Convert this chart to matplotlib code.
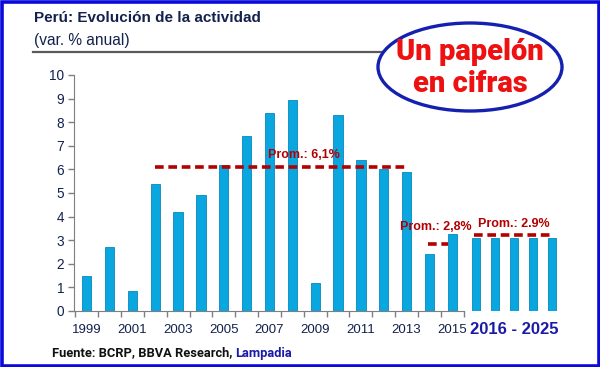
import matplotlib

matplotlib.use("Agg")
import matplotlib.pyplot as plt
import matplotlib.patches as mpatches
import matplotlib.lines as mlines
from matplotlib import font_manager

W, H = 600, 367

# historical growth, % yoy
years = [1999, 2000, 2001, 2002, 2003, 2004, 2005, 2006, 2007,
         2008, 2009, 2010, 2011, 2012, 2013, 2014, 2015]
growth = [1.5, 2.7, 0.85, 5.4, 4.2, 4.9, 6.2, 7.4, 8.4,
          8.95, 1.2, 8.3, 6.4, 6.0, 5.9, 2.4, 3.25]
# forecast block 2016-2025 (five bars)
forecast = [3.1, 3.1, 3.1, 3.1, 3.1]
forecast_label = "2016 - 2025"

# averages: label and line level
avg_labels = ["Prom.: 6,1%", "Prom.: 2,8%", "Prom.: 2.9%"]
avg_levels = [6.1, 2.83, 3.22]

BAR = "#0aa6df"
EDGE = "#0788bb"
NAVY = "#13214d"
RED = "#b30000"

available = {f.name for f in font_manager.fontManager.ttflist}
narrow = "Liberation Sans Narrow" if "Liberation Sans Narrow" in available else "Roboto"


def px(x, y):
    return x / W, 1 - y / H


fig = plt.figure(figsize=(W / 100, H / 100), dpi=100)
fig.patch.set_facecolor("white")

# axes: left 74px, right 560px, top 75px, bottom 311px
ax = fig.add_axes([74 / W, 1 - 311 / H, (560 - 74) / W, (311 - 75) / H])

step = 22.85  # px per year
x_hist = list(range(len(years)))
x0_px = 86.7
left_lim = (74 - x0_px) / step
right_lim = (560 - x0_px) / step
x_fc = [(476 - x0_px) / step + k * (19.0 / step) for k in range(len(forecast))]

ax.bar(x_hist, growth, width=0.41, color=BAR, edgecolor=EDGE, linewidth=0.6, zorder=2)
ax.bar(x_fc, forecast, width=0.38, color=BAR, edgecolor=EDGE, linewidth=0.6, zorder=2)

# average lines
i02, i13, i14, i15 = years.index(2002), years.index(2013), years.index(2014), years.index(2015)
spans = [(i02, i13), (i14 - 0.05, i15 - 0.2), (x_fc[0] - 0.1, x_fc[-1] + 0.05)]
label_pos = [((i02 + i13) / 2 + 1.0, 6.6), (i14 + 0.3, 3.55), ((x_fc[0] + x_fc[-1]) / 2, 3.7)]
for (a, b), lvl, lab, (tx, ty) in zip(spans, avg_levels, avg_labels, label_pos):
    ax.plot([a, b], [lvl, lvl], color=RED, lw=2.6, ls=(0, (2.4, 1.3)), zorder=3,
            solid_capstyle="butt", dash_capstyle="butt")
    ax.text(tx, ty, lab, color=RED, fontsize=9, fontweight="bold", ha="center",
            va="center", family="Liberation Sans", zorder=4)

ax.set_xlim(left_lim, right_lim)
ax.set_ylim(0, 10)
ax.set_yticks(range(0, 11))
for s in ("top", "right"):
    ax.spines[s].set_visible(False)
ax.spines["left"].set_color("#7f7f7f")
ax.spines["bottom"].set_color("#7f7f7f")
ax.spines["bottom"].set_bounds(left_lim, i15 + 0.5)
ax.set_xticks([i - 0.5 for i in range(len(years) + 1)])
ax.set_xticklabels([])
ax.tick_params(axis="both", colors="#7f7f7f", length=4, width=1)
ax.tick_params(axis="y", labelcolor=NAVY, labelsize=9.8, pad=3)
for lbl in ax.get_yticklabels():
    lbl.set_family("Liberation Sans")

for i, yr in enumerate(years):
    if yr % 2 == 1:
        ax.text(i, -0.55, str(yr), ha="center", va="top", fontsize=9.5,
                color=NAVY, family="Liberation Sans")
ax.text((x_fc[0] + x_fc[-1]) / 2, -0.45, forecast_label, ha="center", va="top",
        fontsize=12, fontweight="bold", color="#1a1aa8", family="Liberation Sans")

# title block
fig.text(*px(34, 18), "Perú: Evolución de la actividad", fontsize=11, fontweight="bold",
         color=NAVY, va="center", family="Liberation Sans")
fig.text(*px(34, 40), "(var. % anual)", fontsize=11.2, color=NAVY, va="center",
         family="Liberation Sans")
fig.add_artist(mlines.Line2D([33 / W, 385 / W], [1 - 52 / H] * 2, color="#5a5a5a", lw=1.6))

# callout ellipse
ell = mpatches.Ellipse(px(470, 67), 184 / W, 88 / H, transform=fig.transFigure,
                       facecolor="white", edgecolor="#1420b0", lw=2.4, zorder=5)
fig.add_artist(ell)
fig.text(*px(470, 52), "Un papelón", fontsize=21, fontweight="black", color="#ee1111",
         ha="center", va="center", family=narrow, zorder=6)
fig.text(*px(470, 84), "en cifras", fontsize=21, fontweight="black", color="#ee1111",
         ha="center", va="center", family=narrow, zorder=6)

# source
src = fig.text(*px(52, 353), "Fuente: BCRP, BBVA Research, ", fontsize=9.3, fontweight="bold",
               color="#111111", va="center", family=narrow)
fig.canvas.draw()
bb = src.get_window_extent()
fig.text(bb.x1 / W / (fig.dpi / 100), 1 - 353 / H, "Lampadia", fontsize=9.3, fontweight="bold",
         color="#1a1aa8", va="center", family=narrow)

# blue frame
fig.add_artist(mpatches.Rectangle((1.5 / W, 1.5 / H), (W - 3) / W, (H - 3) / H,
                                  transform=fig.transFigure, fill=False,
                                  edgecolor="#0a0adc", lw=2.6, zorder=10))

fig.savefig("out.png", dpi=100)
